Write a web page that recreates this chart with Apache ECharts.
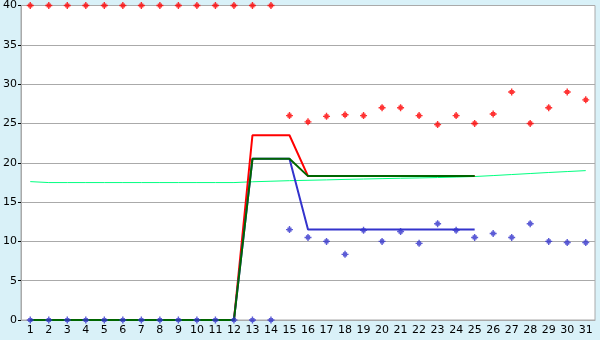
<!DOCTYPE html>
<html>
<head>
<meta charset="utf-8">
<script src="https://cdn.jsdelivr.net/npm/echarts@6/dist/echarts.min.js"></script>
<style>
  html, body { margin: 0; padding: 0; background: #d9f1f8; }
  #chart { width: 600px; height: 340px; }
</style>
</head>
<body>
<div id="chart"></div>
<script>
// categories
var days = ['1','2','3','4','5','6','7','8','9','10','11','12','13','14','15','16',
  '17','18','19','20','21','22','23','24','25','26','27','28','29','30','31'];

// scatter points
var redPoints = [40,40,40,40,40,40,40,40,40,40,40,40,40,40,
  26,25.2,25.9,26.1,26,27,27,26,24.85,26,25,26.2,29,25,27,29,28];
var bluePoints = [0,0,0,0,0,0,0,0,0,0,0,0,0,0,
  11.5,10.5,10,8.35,11.4,10,11.25,9.75,12.25,11.4,10.5,11,10.5,12.25,10,9.85,9.85];

// lines (end at day 25)
var redLine = [0,0,0,0,0,0,0,0,0,0,0,0,23.5,23.5,23.5,18.3,18.3,18.3,18.3,18.3,18.3,18.3,18.3,18.3,18.3];
var blueLine = [0,0,0,0,0,0,0,0,0,0,0,0,20.5,20.5,20.5,11.5,11.5,11.5,11.5,11.5,11.5,11.5,11.5,11.5,11.5];
var greenLine = [0,0,0,0,0,0,0,0,0,0,0,0,20.5,20.5,20.5,18.3,18.3,18.3,18.3,18.3,18.3,18.3,18.3,18.3,18.3];
var trendLine = [17.6,17.48,17.48,17.48,17.48,17.48,17.48,17.48,17.48,17.48,17.48,17.48,
  17.58,17.65,17.72,17.77,17.82,17.88,17.93,17.98,18.03,18.07,18.12,18.18,18.25,
  18.37,18.5,18.63,18.76,18.88,19.0];

// small stepped diamond marker
var mark = 'path://M2,0H3V1H4V2H5V3H4V4H3V5H2V4H1V3H0V2H1V1H2Z';

var chart = echarts.init(document.getElementById('chart'));
chart.setOption({
  backgroundColor: '#d9f1f8',
  animation: false,
  grid: {
    left: 20, right: 5, top: 5, bottom: 20,
    show: true, backgroundColor: '#ffffff', borderColor: '#aaaaaa', borderWidth: 1
  },
  xAxis: {
    type: 'category',
    data: days,
    boundaryGap: true,
    axisLine: { lineStyle: { color: '#aaaaaa' } },
    axisTick: { alignWithLabel: true, length: 4, lineStyle: { color: '#000' } },
    axisLabel: { color: '#000', fontFamily: 'DejaVu Sans', fontSize: 11, margin: 5, interval: 0 },
    splitLine: { show: false }
  },
  yAxis: {
    type: 'value',
    min: 0, max: 40, interval: 5,
    axisLine: { show: true, lineStyle: { color: '#aaaaaa' } },
    axisTick: { show: true, length: 3, lineStyle: { color: '#000' } },
    axisLabel: { color: '#000', fontFamily: 'DejaVu Sans', fontSize: 11, margin: 4 },
    splitLine: { lineStyle: { color: '#aaaaaa' } }
  },
  series: [
    { type: 'line', data: trendLine, symbol: 'none', lineStyle: { color: '#00ff80', width: 1 }, z: 2 },
    { type: 'line', data: redLine, symbol: 'none', lineStyle: { color: '#ff0000', width: 2 }, z: 3 },
    { type: 'line', data: blueLine, symbol: 'none', lineStyle: { color: '#3333cc', width: 2 }, z: 3 },
    { type: 'line', data: greenLine, symbol: 'none', lineStyle: { color: '#006600', width: 2 }, z: 4 },
    { type: 'scatter', data: redPoints, symbol: mark, symbolSize: 7, itemStyle: { color: '#ff0000' }, z: 5 },
    { type: 'scatter', data: bluePoints, symbol: mark, symbolSize: 7, itemStyle: { color: '#3333cc' }, z: 5 }
  ]
});
</script>
</body>
</html>
